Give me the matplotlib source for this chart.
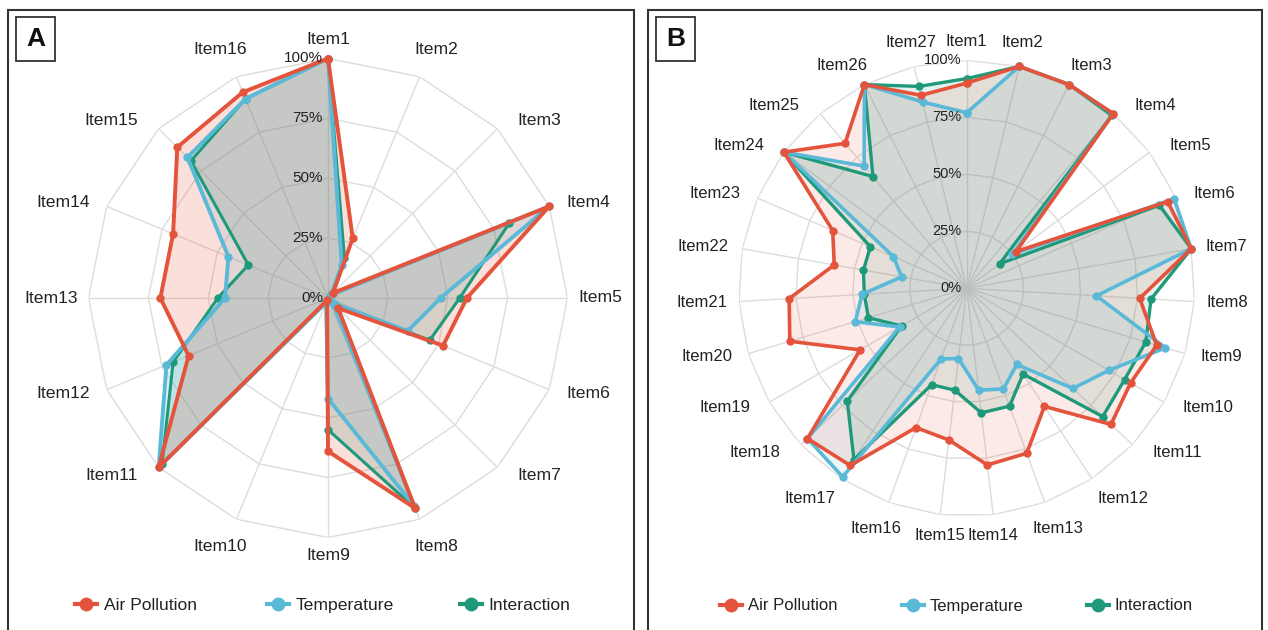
import numpy as np
import matplotlib
matplotlib.use('Agg')
import matplotlib.pyplot as plt
from matplotlib.lines import Line2D
from matplotlib.patches import Rectangle

plt.rcParams['font.family'] = ['Liberation Sans', 'DejaVu Sans']

# ---------------- data ----------------
items_a = [f'Item{i}' for i in range(1, 17)]
air_a = [100, 27, 3, 100, 58, 52, 6, 95, 64, 1, 100, 63, 70, 70, 89, 93]
temp_a = [100, 15, 2, 100, 47, 36, 3, 94, 42, 2, 100, 73, 43, 45, 83, 90]
inter_a = [100, 18, 2, 82, 55, 46, 4, 95, 55, 2, 98, 70, 46, 36, 81, 90]

items_b = [f'Item{i}' for i in range(1, 28)]
air_b = [90, 100, 100, 100, 27, 96, 100, 76, 87, 83, 87, 62, 77, 78, 67, 65,
         93, 96, 54, 81, 78, 59, 64, 100, 83, 100, 87]
temp_b = [77, 100, 100, 100, 25, 99, 100, 57, 91, 72, 64, 40, 47, 45, 31, 33,
          99, 96, 34, 51, 46, 29, 35, 100, 70, 100, 84]
inter_b = [92, 100, 100, 99, 18, 92, 100, 81, 82, 80, 82, 45, 55, 55, 45, 45,
           90, 72, 33, 45, 45, 46, 46, 100, 64, 100, 91]

ring_ticks = [0, 25, 50, 75, 100]
series_names = ['Air Pollution', 'Temperature', 'Interaction']

RED = '#E4533B'
BLUE = '#5BB9D8'
GREEN = '#1E9A7A'
GRID = '#DCDCDC'
TXT = '#222222'

W, H = 1268, 630
fig = plt.figure(figsize=(W / 100, H / 100), dpi=100)
PX = 0.72  # points per pixel


def radar(cx, cy, R, labels, air, temp, inter, alpha, lab_fs, pct_fs, lws):
    ax = fig.add_axes([(cx - R) / W, (H - cy - R) / H, 2 * R / W, 2 * R / H],
                      projection='polar')
    ax.set_theta_zero_location('N')
    ax.set_theta_direction(-1)
    ax.grid(False)
    ax.set_xticks([])
    ax.set_yticks([])
    ax.spines['polar'].set_visible(False)
    ax.patch.set_alpha(0)
    n = len(labels)
    theta = np.arange(n) * 2 * np.pi / n
    tc = np.append(theta, theta[0])
    for r in ring_ticks[1:]:
        ax.plot(tc, [r] * (n + 1), color=GRID, lw=1, zorder=1)
    for t in theta:
        ax.plot([t, t], [0, 100], color=GRID, lw=1, zorder=1)

    order = [(inter, GREEN, lws[2]), (temp, BLUE, lws[1]), (air, RED, lws[0])]
    for vals, col, lw in order:
        v = np.append(vals, vals[0])
        ax.fill(tc, v, color=col, alpha=alpha, lw=0, zorder=2)
    for vals, col, lw in order:
        v = np.append(vals, vals[0])
        ax.plot(tc, v, color=col, lw=lw, marker='o', ms=6, mew=0,
                clip_on=False, zorder=3)
    ax.set_ylim(0, 100)

    g = 11
    for t, lab in zip(theta, labels):
        s, c = np.sin(t), np.cos(t)
        if abs(c) > 0.8:
            ha = 'center'
            va = 'bottom' if c > 0 else 'top'
            ox = np.sign(s) * max(0.0, abs(s) - 0.2) * 90
            gap = 11 + 22 * abs(s) if abs(s) < 0.42 else 12
            oy = np.sign(c) * gap
        else:
            ha = 'left' if s > 0 else 'right'
            va = 'center'
            ox = g * s + 18 * abs(c) * np.sign(s)
            oy = g * c
        ax.annotate(lab, xy=(t, 100), xytext=(ox * PX, oy * PX),
                    textcoords='offset points', ha=ha, va=va,
                    fontsize=lab_fs, color=TXT, annotation_clip=False, zorder=5)
    for r in ring_ticks:
        ax.annotate(f'{r}%', xy=(0, r), xytext=(-5 * PX, 0),
                    textcoords='offset points', ha='right', va='center',
                    fontsize=pct_fs, color=TXT, annotation_clip=False, zorder=5)
    return ax


radar(328, 298, 239.5, items_a, air_a, temp_a, inter_a, 0.18, 12.6, 11,
      (2.8, 2.8, 2.2))
radar(966.7, 288.3, 228, items_b, air_b, temp_b, inter_b, 0.12, 12.0, 10.5,
      (2.6, 2.6, 2.4))

# panel frames and tags
for x0, x1, tag in [(8, 634, 'A'), (648, 1262, 'B')]:
    fig.add_artist(Rectangle((x0 / W, -0.05), (x1 - x0) / W, (H - 10) / H + 0.05,
                             transform=fig.transFigure, fill=False, lw=1.5,
                             ec='#333333'))
    fig.add_artist(Rectangle(((x0 + 8) / W, (H - 61) / H), 39 / W, 44 / H,
                             transform=fig.transFigure, fill=False, lw=1.3,
                             ec='#333333'))
    fig.text((x0 + 27.5) / W, (H - 39) / H, tag, ha='center', va='center',
             fontsize=19, fontweight='bold', color='#111111')

# legends: one entry each, placed by marker centre
leg_specs = [((86, 278, 471), 12.6, 25), ((731, 913, 1098), 12.0, 24)]
for centers, fs, y in leg_specs:
    hl = 1.3
    hl_px = hl * fs / PX
    for xc, name, col in zip(centers, series_names, (RED, BLUE, GREEN)):
        h = Line2D([], [], color=col, lw=3, marker='o', ms=10, mew=0)
        fig.legend([h], [name], loc='center left',
                   bbox_to_anchor=((xc - hl_px / 2) / W, y / H),
                   borderaxespad=0, borderpad=0, frameon=False, fontsize=fs,
                   handlelength=hl, handletextpad=0.35, labelcolor=TXT)

fig.savefig('out.png', dpi=100)
